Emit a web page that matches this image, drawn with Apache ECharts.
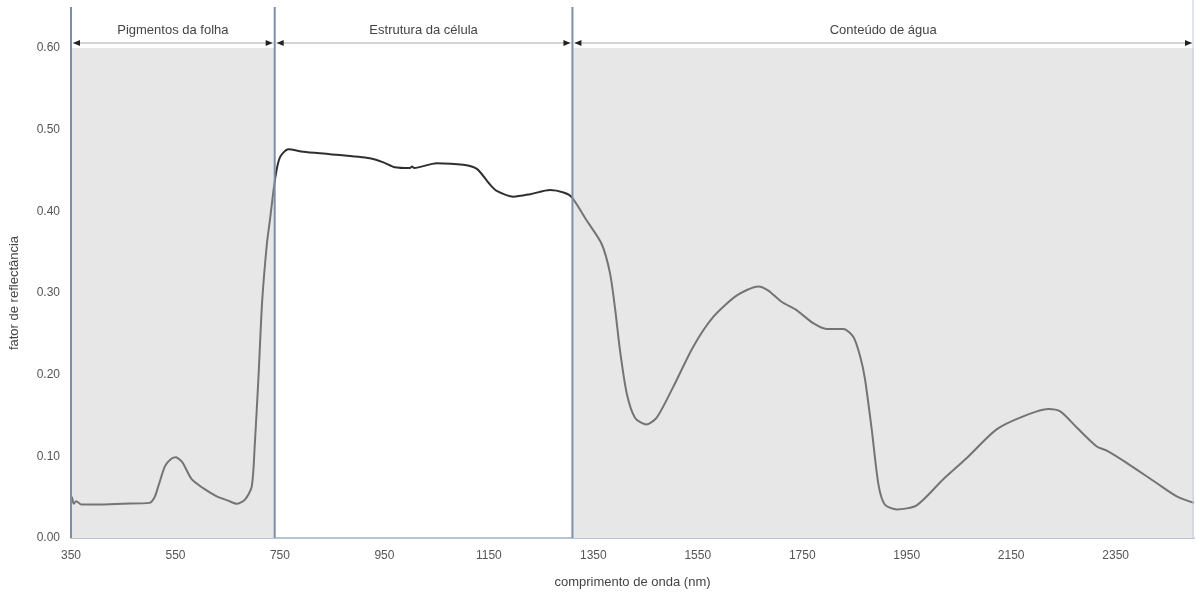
<!DOCTYPE html>
<html>
<head>
<meta charset="utf-8">
<script src="https://cdn.jsdelivr.net/npm/echarts@6/dist/echarts.min.js"></script>
<style>
html,body{margin:0;padding:0;background:#fff;}
#chart{width:1196px;height:594px;}
</style>
</head>
<body>
<div id="chart"></div>
<script>
// ---- data ----
const wavelength = [350,352,355,360,370,400,450,500,510,517,530,542,551,560,565,581,603,629,650,667,683,696,702,709,716,725,731,741,750,766,795,846,922,948,970,999,1003,1007,1050,1101,1127,1152,1165,1197,1229,1267,1293,1309,1337,1366,1382,1392,1401,1414,1430,1451,1471,1503,1541,1580,1625,1666,1685,1711,1739,1771,1797,1829,1848,1861,1870,1883,1896,1908,1931,1969,2020,2065,2122,2173,2221,2244,2276,2314,2333,2371,2429,2467,2500];
const reflectance = [0.044,0.050,0.042,0.045,0.041,0.041,0.042,0.043,0.050,0.063,0.088,0.097,0.099,0.095,0.091,0.072,0.061,0.051,0.046,0.042,0.047,0.063,0.116,0.198,0.290,0.360,0.390,0.441,0.466,0.476,0.473,0.470,0.465,0.460,0.454,0.453,0.455,0.453,0.459,0.457,0.452,0.433,0.425,0.418,0.421,0.426,0.423,0.417,0.389,0.360,0.324,0.279,0.230,0.177,0.147,0.139,0.147,0.185,0.234,0.271,0.297,0.308,0.303,0.289,0.279,0.263,0.256,0.256,0.246,0.222,0.195,0.133,0.065,0.041,0.035,0.040,0.072,0.098,0.133,0.149,0.158,0.155,0.135,0.112,0.107,0.092,0.067,0.051,0.043];
const regionBreaks = [350, 740, 1310, 2500];
const regionNames = ['Pigmentos da folha', 'Estrutura da célula', 'Conteúdo de água'];
const xAxisTitle = 'comprimento de onda (nm)';
const yAxisTitle = 'fator de reflectância';

const FONT = 'Liberation Sans, Arial, sans-serif';
const chart = echarts.init(document.getElementById('chart'));
const points = wavelength.map((w, i) => [w, reflectance[i]]);

chart.setOption({
  animation: false,
  backgroundColor: '#ffffff',
  grid: { left: 71, right: 2, top: 48, bottom: 52 },
  xAxis: {
    type: 'value', min: 350, max: 2500, interval: 200,
    name: xAxisTitle, nameLocation: 'middle', nameGap: 38,
    nameTextStyle: { color: '#444', fontSize: 13, fontFamily: FONT },
    axisLine: { show: true, lineStyle: { color: '#b9c4d3', width: 2 } },
    axisTick: { show: false },
    splitLine: { show: false },
    axisLabel: { color: '#555', fontSize: 12, fontFamily: FONT, margin: 12, showMaxLabel: false, formatter: v => String(v) }
  },
  yAxis: {
    type: 'value', min: 0, max: 0.6, interval: 0.1,
    name: yAxisTitle, nameLocation: 'middle', nameGap: 50, nameRotate: 90,
    nameTextStyle: { color: '#444', fontSize: 13, fontFamily: FONT },
    axisLine: { show: false },
    axisTick: { show: false },
    splitLine: { show: false },
    axisLabel: { color: '#555', fontSize: 12, fontFamily: FONT, margin: 11, formatter: v => v.toFixed(2) }
  },
  visualMap: {
    show: false, type: 'piecewise', dimension: 0, seriesIndex: 0,
    pieces: [
      { lt: regionBreaks[1], color: '#747474' },
      { gte: regionBreaks[1], lt: regionBreaks[2], color: '#2f2f2f' },
      { gte: regionBreaks[2], color: '#747474' }
    ]
  },
  series: [{
    type: 'line',
    data: points,
    showSymbol: false,
    smooth: 0.25,
    lineStyle: { width: 2 },
    markArea: {
      silent: true,
      itemStyle: { color: '#e7e7e7' },
      data: [
        [{ xAxis: regionBreaks[0] }, { xAxis: regionBreaks[1] }],
        [{ xAxis: regionBreaks[2] }, { xAxis: regionBreaks[3] }]
      ]
    }
  }]
});

// ---- region dividers, arrows and labels placed from the axis scale ----
const px = v => chart.convertToPixel({ xAxisIndex: 0, yAxisIndex: 0 }, [v, 0]);
const yBottom = px(350)[1];
const yTop = chart.convertToPixel({ xAxisIndex: 0, yAxisIndex: 0 }, [350, 0.6])[1];
const arrowY = yTop - 5;
const labelY = yTop - 18;
const graphics = [];
regionBreaks.forEach((b, i) => {
  const x = px(b)[0];
  const last = i === regionBreaks.length - 1;
  graphics.push({
    type: 'line', z: 10, silent: true,
    shape: { x1: last ? x - 1 : x, y1: last ? 0 : 7, x2: last ? x - 1 : x, y2: yBottom },
    style: { stroke: last ? '#c3cad4' : '#7d8fa8', lineWidth: last ? 1 : 2 }
  });
});
for (let i = 0; i < regionNames.length; i++) {
  const xa = px(regionBreaks[i])[0] + 2;
  const xb = px(regionBreaks[i + 1])[0] - 2;
  graphics.push({
    type: 'line', z: 10, silent: true,
    shape: { x1: xa, y1: arrowY, x2: xb, y2: arrowY },
    style: { stroke: '#a8a8a8', lineWidth: 1 }
  });
  graphics.push({
    type: 'polygon', z: 11, silent: true,
    shape: { points: [[xa, arrowY], [xa + 7, arrowY - 3], [xa + 7, arrowY + 3]] },
    style: { fill: '#222' }
  });
  graphics.push({
    type: 'polygon', z: 11, silent: true,
    shape: { points: [[xb, arrowY], [xb - 7, arrowY - 3], [xb - 7, arrowY + 3]] },
    style: { fill: '#222' }
  });
  graphics.push({
    type: 'text', z: 11, silent: true,
    x: (xa + xb) / 2, y: labelY,
    style: { text: regionNames[i], fill: '#444', font: '13px ' + FONT, align: 'center', verticalAlign: 'middle' }
  });
}
chart.setOption({ graphic: graphics });
</script>
</body>
</html>
